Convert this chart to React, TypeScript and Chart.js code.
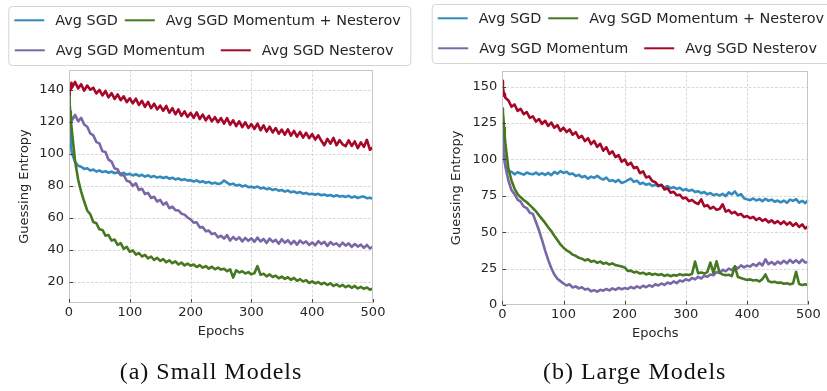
import React, { useEffect, useRef } from "react";
import { Chart, registerables } from "chart.js";

Chart.register(...registerables);

// ---------- data ----------
const EPOCHS = [
  0, 1, 2, 3, 4, 5,
  10, 15, 20, 25, 30, 35, 40, 45, 50,
  55, 60, 65, 70, 75, 80, 85, 90, 95, 100,
  105, 110, 115, 120, 125, 130, 135, 140, 145, 150,
  155, 160, 165, 170, 175, 180, 185, 190, 195, 200,
  205, 210, 215, 220, 225, 230, 235, 240, 245, 250,
  255, 260, 265, 270, 275, 280, 285, 290, 295, 300,
  305, 310, 315, 320, 325, 330, 335, 340, 345, 350,
  355, 360, 365, 370, 375, 380, 385, 390, 395, 400,
  405, 410, 415, 420, 425, 430, 435, 440, 445, 450,
  455, 460, 465, 470, 475, 480, 485, 490, 495, 500,
];

const SERIES_LABELS = ["Avg SGD", "Avg SGD Momentum", "Avg SGD Momentum + Nesterov", "Avg SGD Nesterov"];
const SERIES_COLORS = ["#348ABD", "#7A68A6", "#467821", "#A60628"];

// (a) Small Models
const SMALL_SGD = [
  122, 117.5, 112, 106.5, 102.5, 100.2,
  95.0, 92.6, 92.0, 90.6, 91.0, 89.6, 90.2, 89.0, 89.6,
  88.6, 89.2, 88.2, 88.9, 87.9, 88.5, 87.5, 88.2, 87.1, 87.5,
  86.5, 87.3, 86.2, 86.9, 85.8, 86.6, 85.5, 86.1, 85.2, 85.7,
  84.9, 85.6, 84.5, 85.1, 84.0, 84.7, 83.6, 84.2, 83.3, 83.6,
  82.7, 83.4, 82.3, 82.9, 81.9, 82.5, 81.4, 82.0, 81.2, 81.6,
  83.4, 82.0, 80.8, 81.4, 80.2, 80.7, 79.6, 80.3, 79.2, 79.4,
  78.9, 79.6, 78.4, 78.9, 77.9, 78.5, 77.4, 78.0, 77.0, 77.4,
  76.4, 77.1, 76.0, 76.5, 75.5, 76.1, 75.1, 75.6, 74.7, 75.1,
  74.5, 75.0, 74.1, 74.6, 73.8, 74.3, 73.4, 74.1, 73.3, 73.7,
  73.1, 73.8, 72.7, 73.4, 72.4, 73.1, 73.3, 72.3, 72.6, 71.9,
];
const SMALL_MOMENTUM = [
  134, 127, 122.5, 120.6, 123.0, 121.0,
  124.4, 120.4, 122.6, 118.4, 117.0, 112.8, 111.6, 107.4, 106.6,
  101.6, 101.2, 96.4, 95.2, 90.8, 90.4, 86.6, 86.8, 83.2, 82.6,
  80.0, 81.6, 77.4, 78.2, 74.8, 75.6, 72.4, 73.2, 70.2, 71.2,
  68.2, 69.6, 66.0, 67.0, 64.8, 64.6, 62.6, 62.0, 60.2, 59.0,
  57.0, 57.2, 54.0, 54.2, 51.6, 52.0, 49.8, 50.4, 47.8, 48.8,
  47.0, 49.2, 45.8, 48.0, 46.2, 47.8, 45.2, 47.4, 45.6, 47.2,
  45.0, 47.6, 45.2, 46.8, 44.2, 47.0, 45.0, 46.2, 43.8, 46.6,
  44.4, 46.0, 43.6, 45.6, 43.2, 45.8, 44.0, 45.2, 43.0, 44.6,
  42.8, 45.4, 43.6, 45.0, 42.4, 44.8, 43.2, 44.0, 42.2, 44.4,
  42.6, 44.0, 41.8, 43.6, 42.0, 43.2, 41.2, 43.0, 40.8, 42.0,
];
const SMALL_MOM_NESTEROV = [
  138, 132, 126.5, 121, 117.5, 113.5,
  95.5, 84.0, 76.4, 70.2, 64.6, 62.2, 57.4, 56.6, 52.8,
  52.4, 48.8, 49.2, 45.8, 46.4, 43.0, 44.2, 40.6, 41.8, 38.8,
  39.6, 37.0, 38.0, 35.8, 36.8, 34.6, 35.8, 33.6, 35.0, 33.0,
  34.2, 32.2, 33.4, 31.6, 32.8, 30.8, 32.0, 30.2, 31.4, 30.0,
  30.8, 29.2, 30.4, 28.8, 29.8, 28.2, 29.4, 27.8, 28.8, 27.6,
  28.2, 26.6, 27.8, 22.6, 27.2, 25.8, 26.6, 25.2, 26.0, 24.6,
  25.4, 29.8, 24.4, 25.0, 23.4, 24.6, 23.0, 23.8, 22.2, 23.2,
  21.8, 22.8, 21.2, 22.4, 20.6, 21.6, 20.2, 21.0, 19.2, 20.2,
  19.0, 19.8, 18.4, 19.4, 18.0, 19.0, 17.4, 18.4, 17.0, 18.0,
  16.6, 17.6, 16.2, 17.4, 15.8, 16.8, 15.6, 16.4, 15.0, 15.8,
];
const SMALL_NESTEROV = [
  137, 139.5, 142.5, 140.2, 144.5, 141.5,
  145.0, 141.0, 143.6, 139.6, 142.8, 140.2, 141.4, 137.8, 140.0,
  136.6, 139.4, 135.4, 138.0, 134.4, 137.2, 133.6, 136.0, 132.4, 134.8,
  131.6, 134.6, 130.6, 133.2, 129.4, 132.6, 128.6, 131.4, 127.8, 130.2,
  127.0, 130.0, 125.8, 128.6, 124.8, 127.8, 123.8, 126.6, 123.2, 125.6,
  122.6, 126.0, 121.8, 124.6, 121.0, 123.8, 120.4, 123.0, 119.8, 122.4,
  119.0, 122.4, 118.2, 121.0, 117.4, 120.4, 116.8, 119.8, 116.2, 118.6,
  115.6, 119.0, 114.8, 117.8, 114.0, 117.0, 113.4, 116.2, 112.6, 115.2,
  112.0, 115.4, 111.4, 114.4, 110.8, 113.8, 110.2, 113.2, 109.8, 112.4,
  109.0, 111.6, 108.2, 105.4, 109.4, 106.4, 110.0, 105.4, 108.6, 106.0,
  104.8, 108.4, 105.0, 107.8, 103.6, 107.2, 104.4, 108.8, 102.6, 104.2,
];

// (b) Large Models
const LARGE_SGD = [
  114, 112, 107, 102.4, 98.8, 96.2,
  92.0, 91.6, 89.8, 91.2, 90.4, 89.6, 91.0, 90.2, 89.8,
  91.0, 89.6, 90.6, 89.4, 90.8, 89.2, 91.4, 90.2, 92.0, 90.8,
  91.6, 89.8, 90.4, 88.6, 89.4, 87.8, 88.6, 86.8, 88.2, 87.4,
  88.8, 87.2, 86.2, 87.6, 85.2, 85.8, 84.6, 86.0, 83.8, 84.6,
  85.8, 86.8, 84.6, 85.4, 83.2, 84.0, 82.6, 83.4, 81.8, 82.6,
  81.6, 82.4, 80.8, 81.8, 80.2, 81.0, 79.8, 80.6, 78.8, 79.6,
  78.4, 79.2, 77.6, 78.2, 76.8, 77.6, 76.0, 77.0, 75.4, 76.2,
  75.2, 76.4, 74.8, 77.4, 76.0, 78.0, 75.2, 76.2, 73.4, 72.6,
  72.0, 73.2, 71.8, 72.8, 71.4, 73.0, 71.6, 72.4, 71.0, 71.8,
  70.6, 71.8, 70.2, 72.4, 71.6, 72.8, 70.4, 71.6, 70.0, 72.2,
];
const LARGE_MOMENTUM = [
  118, 114, 108.4, 102.6, 98.8, 95.2,
  85.4, 79.0, 76.2, 72.4, 71.0, 67.6, 66.6, 63.4, 62.6,
  57.0, 51.2, 44.6, 37.4, 31.0, 25.4, 21.0, 18.0, 16.4, 14.8,
  13.4, 14.2, 12.0, 12.8, 11.4, 12.2, 10.6, 11.2, 9.4, 10.2,
  9.2, 10.4, 9.8, 11.0, 10.0, 11.4, 10.4, 11.8, 10.8, 11.6,
  11.0, 12.4, 11.4, 12.8, 11.8, 13.2, 12.2, 13.6, 12.6, 14.2,
  13.4, 14.8, 13.8, 15.4, 14.6, 16.2, 15.0, 16.8, 16.2, 17.6,
  16.8, 18.6, 17.6, 19.4, 18.2, 20.2, 19.4, 21.0, 20.4, 22.6,
  22.0, 24.2, 23.2, 25.0, 24.0, 26.4, 25.2, 27.2, 25.8, 27.0,
  26.4, 28.2, 26.8, 29.0, 27.2, 31.4, 28.0, 29.6, 27.8, 29.8,
  28.4, 30.4, 28.6, 31.0, 29.0, 30.8, 28.8, 31.2, 29.2, 29.6,
];
const LARGE_MOM_NESTEROV = [
  135, 132.6, 127.4, 121.6, 115.8, 111.2,
  93.6, 85.6, 80.0, 76.2, 74.0, 72.2, 70.6, 68.6, 66.6,
  64.4, 61.6, 59.0, 56.4, 53.4, 50.8, 47.6, 44.6, 41.6, 39.4,
  37.6, 36.4, 34.6, 33.8, 32.4, 31.8, 30.6, 31.4, 29.8, 30.4,
  29.0, 29.8, 28.4, 29.0, 27.8, 28.6, 27.4, 27.0, 26.4, 25.8,
  23.4, 23.6, 22.4, 22.8, 21.6, 22.2, 21.0, 21.8, 20.8, 21.4,
  20.6, 21.2, 20.0, 20.8, 19.8, 20.6, 20.2, 21.2, 20.4, 21.0,
  20.6, 21.4, 29.8, 21.8, 22.4, 21.6, 22.6, 29.2, 22.0, 30.0,
  22.2, 21.0, 20.4, 20.8, 19.8, 26.6, 19.2, 18.6, 17.8, 17.2,
  17.6, 16.8, 17.2, 16.2, 17.8, 21.0, 16.4, 15.6, 16.0, 15.2,
  15.4, 14.6, 15.0, 14.2, 14.8, 22.8, 14.4, 13.8, 14.2, 13.6,
];
const LARGE_NESTEROV = [
  154, 149.5, 146.8, 143.6, 145.2, 142.4,
  140.6, 136.2, 137.8, 133.4, 134.8, 131.2, 132.6, 128.6, 129.6,
  126.0, 127.8, 124.4, 126.6, 123.0, 125.4, 121.8, 123.6, 119.6, 121.8,
  118.8, 120.6, 117.0, 118.8, 114.8, 116.2, 112.6, 114.6, 110.6, 112.8,
  108.6, 110.8, 106.0, 108.4, 103.8, 105.6, 101.6, 103.0, 98.4, 100.0,
  96.2, 97.8, 94.0, 94.8, 90.6, 91.8, 87.6, 88.4, 85.2, 84.4,
  82.0, 82.6, 79.4, 80.2, 77.2, 77.8, 75.4, 75.8, 73.2, 73.8,
  71.4, 72.2, 70.4, 69.4, 72.6, 67.8, 68.6, 66.2, 67.4, 65.4,
  66.0, 69.2, 64.2, 65.2, 63.0, 64.0, 61.8, 62.6, 60.4, 61.2,
  59.6, 60.6, 58.4, 59.8, 57.8, 59.0, 56.8, 58.2, 56.2, 57.6,
  55.6, 57.4, 55.2, 56.8, 54.4, 56.2, 53.6, 55.4, 52.6, 54.2,
];

const X_TICKS = [0, 100, 200, 300, 400, 500];
const SMALL_Y_TICKS = [20, 40, 60, 80, 100, 120, 140];
const LARGE_Y_TICKS = [0, 25, 50, 75, 100, 125, 150];
const X_TITLE = "Epochs";
const Y_TITLE = "Guessing Entropy";
const CAPTIONS = ["(a) Small Models", "(b) Large Models"];

// ---------- styling / layout ----------
const TEXT_COLOR = "#262626";
const SANS = "DejaVu Sans";

type Panel = {
  series: number[][];
  yMin: number;
  yMax: number;
  yTicks: number[];
  caption: string;
  padTop: number;
  padRight: number;
  padBottom: number;
  yAxisWidth: number;
  yTitlePad: number;
  legendX: number;
  legendY: number;
  captionX: number;
  captionY: number;
};

// legend slots: [series index, x offset, y offset] inside the legend frame
const LEGEND_SLOTS: [number, number, number][] = [
  [0, 6, 14.3],
  [2, 116.5, 14.3],
  [1, 6.5, 44.3],
  [3, 212.5, 44.3],
];

function makeOverlay(p: Panel) {
  return {
    id: "overlay",
    beforeDatasetsDraw(chart: any) {
      const { ctx, chartArea: a } = chart;
      const xs = chart.scales.x;
      const ys = chart.scales.y;
      ctx.save();
      ctx.strokeStyle = "#cdcdcd";
      ctx.lineWidth = 0.8;
      ctx.setLineDash([2.6, 1.8]);
      ctx.beginPath();
      for (const v of X_TICKS) {
        const x = Math.round(xs.getPixelForValue(v)) + 0.5;
        if (x <= a.left + 1.5 || x >= a.right - 1.5) continue;
        ctx.moveTo(x, a.top);
        ctx.lineTo(x, a.bottom);
      }
      for (const v of p.yTicks) {
        const y = Math.round(ys.getPixelForValue(v)) + 0.5;
        if (y <= a.top + 1.5 || y >= a.bottom - 1.5) continue;
        ctx.moveTo(a.left, y);
        ctx.lineTo(a.right, y);
      }
      ctx.stroke();
      ctx.restore();
    },
    afterDatasetsDraw(chart: any) {
      const { ctx, chartArea: a } = chart;
      const xs = chart.scales.x;
      const ys = chart.scales.y;
      const l = Math.round(a.left) + 0.5;
      const t = Math.round(a.top) + 0.5;
      const r = Math.round(a.right) - 0.5;
      const b = Math.round(a.bottom) - 0.5;
      ctx.save();
      ctx.strokeStyle = "#c6c6c6";
      ctx.lineWidth = 1;
      ctx.strokeRect(l, t, r - l, b - t);
      ctx.strokeStyle = "#404040";
      ctx.beginPath();
      for (const v of X_TICKS) {
        const x = Math.round(xs.getPixelForValue(v)) + 0.5;
        ctx.moveTo(x, b);
        ctx.lineTo(x, b - 3.5);
      }
      for (const v of p.yTicks) {
        const y = Math.round(ys.getPixelForValue(v)) + 0.5;
        ctx.moveTo(l, y);
        ctx.lineTo(l + 3.5, y);
      }
      ctx.stroke();
      ctx.restore();
    },
    afterDraw(chart: any) {
      const { ctx } = chart;
      const ds = chart.data.datasets;
      ctx.save();
      // legend frame
      ctx.fillStyle = "rgba(255,255,255,0.9)";
      ctx.strokeStyle = "#d4d4d4";
      ctx.lineWidth = 1;
      ctx.beginPath();
      ctx.roundRect(p.legendX + 0.5, p.legendY + 0.5, 402, 59, 3.5);
      ctx.fill();
      ctx.stroke();
      ctx.font = `14.4px "${SANS}"`;
      ctx.textBaseline = "alphabetic";
      ctx.textAlign = "left";
      for (const [si, dx, dy] of LEGEND_SLOTS) {
        const x = p.legendX + dx;
        const y = p.legendY + dy;
        ctx.strokeStyle = ds[si].borderColor;
        ctx.lineWidth = 2;
        ctx.beginPath();
        ctx.moveTo(x, y);
        ctx.lineTo(x + 30, y);
        ctx.stroke();
        ctx.fillStyle = TEXT_COLOR;
        ctx.fillText(ds[si].label, x + 41, y + 5);
      }
      // caption
      ctx.fillStyle = "#111";
      ctx.font = `24px "Liberation Serif"`;
      ctx.textAlign = "center";
      (ctx as any).letterSpacing = "1px";
      ctx.fillText(p.caption, p.captionX, p.captionY);
      (ctx as any).letterSpacing = "0px";
      ctx.restore();
    },
  };
}

function buildChart(canvas: HTMLCanvasElement, p: Panel) {
  const datasets = p.series.map((vals, i) => ({
    label: SERIES_LABELS[i],
    data: EPOCHS.map((e, k) => ({ x: e, y: vals[k] })),
    borderColor: SERIES_COLORS[i],
    backgroundColor: SERIES_COLORS[i],
    borderWidth: 2.6,
    pointRadius: 0,
    pointHoverRadius: 0,
    tension: 0,
    fill: false,
    borderJoinStyle: "round" as const,
    order: p.series.length - 1 - i,
  }));
  const tickFont = { family: SANS, size: 13 };
  return new Chart(canvas, {
    type: "line",
    data: { datasets },
    options: {
      animation: false,
      responsive: false,
      maintainAspectRatio: false,
      events: [],
      layout: { padding: { top: p.padTop, right: p.padRight, bottom: p.padBottom, left: 0 } },
      plugins: {
        legend: { display: false },
        title: { display: false },
        tooltip: { enabled: false },
      },
      scales: {
        x: {
          type: "linear",
          min: 0,
          max: 500,
          afterBuildTicks: (s: any) => {
            s.ticks = X_TICKS.map((v) => ({ value: v }));
          },
          afterFit: (s: any) => {
            s.height = 36;
          },
          ticks: { font: tickFont, color: TEXT_COLOR, padding: 2, maxRotation: 0, autoSkip: false },
          grid: { display: false, drawTicks: false },
          border: { display: false },
          title: {
            display: true,
            text: X_TITLE,
            font: { family: SANS, size: 13 },
            color: TEXT_COLOR,
            padding: { top: 0, bottom: 0 },
          },
        },
        y: {
          type: "linear",
          min: p.yMin,
          max: p.yMax,
          afterBuildTicks: (s: any) => {
            s.ticks = p.yTicks.map((v) => ({ value: v }));
          },
          afterFit: (s: any) => {
            s.width = p.yAxisWidth;
          },
          ticks: { font: tickFont, color: TEXT_COLOR, padding: 5, autoSkip: false },
          grid: { display: false, drawTicks: false },
          border: { display: false },
          title: {
            display: true,
            text: Y_TITLE,
            font: { family: SANS, size: 13 },
            color: TEXT_COLOR,
            padding: { top: p.yTitlePad, bottom: 0 },
          },
        },
      },
    },
    plugins: [makeOverlay(p)],
  } as any);
}

const SMALL_PANEL: Panel = {
  series: [SMALL_SGD, SMALL_MOMENTUM, SMALL_MOM_NESTEROV, SMALL_NESTEROV],
  yMin: 6.7,
  yMax: 152.5,
  yTicks: SMALL_Y_TICKS,
  caption: CAPTIONS[0],
  padTop: 70,
  padRight: 40,
  padBottom: 52,
  yAxisWidth: 69,
  yTitlePad: 17.2,
  legendX: 8.3,
  legendY: 6,
  captionX: 211,
  captionY: 378.5,
};

const LARGE_PANEL: Panel = {
  series: [LARGE_SGD, LARGE_MOMENTUM, LARGE_MOM_NESTEROV, LARGE_NESTEROV],
  yMin: 0,
  yMax: 161,
  yTicks: LARGE_Y_TICKS,
  caption: CAPTIONS[1],
  padTop: 70.7,
  padRight: 18.7,
  padBottom: 50,
  yAxisWidth: 88.3,
  yTitlePad: 35.2,
  legendX: 17.7,
  legendY: 4,
  captionX: 220.7,
  captionY: 379.3,
};

export default function App() {
  const leftRef = useRef<HTMLCanvasElement | null>(null);
  const rightRef = useRef<HTMLCanvasElement | null>(null);

  useEffect(() => {
    Chart.defaults.font.family = SANS;
    const c1 = leftRef.current ? buildChart(leftRef.current, SMALL_PANEL) : null;
    const c2 = rightRef.current ? buildChart(rightRef.current, LARGE_PANEL) : null;
    return () => {
      c1?.destroy();
      c2?.destroy();
    };
  }, []);

  return (
    <div
      style={{
        position: "absolute",
        left: 0,
        top: 0,
        width: 827,
        height: 391,
        overflow: "hidden",
        background: "#ffffff",
      }}
    >
      <canvas ref={leftRef} width={413} height={391} style={{ position: "absolute", left: 0, top: 0 }} />
      <canvas ref={rightRef} width={413} height={391} style={{ position: "absolute", left: 414, top: 0 }} />
    </div>
  );
}
